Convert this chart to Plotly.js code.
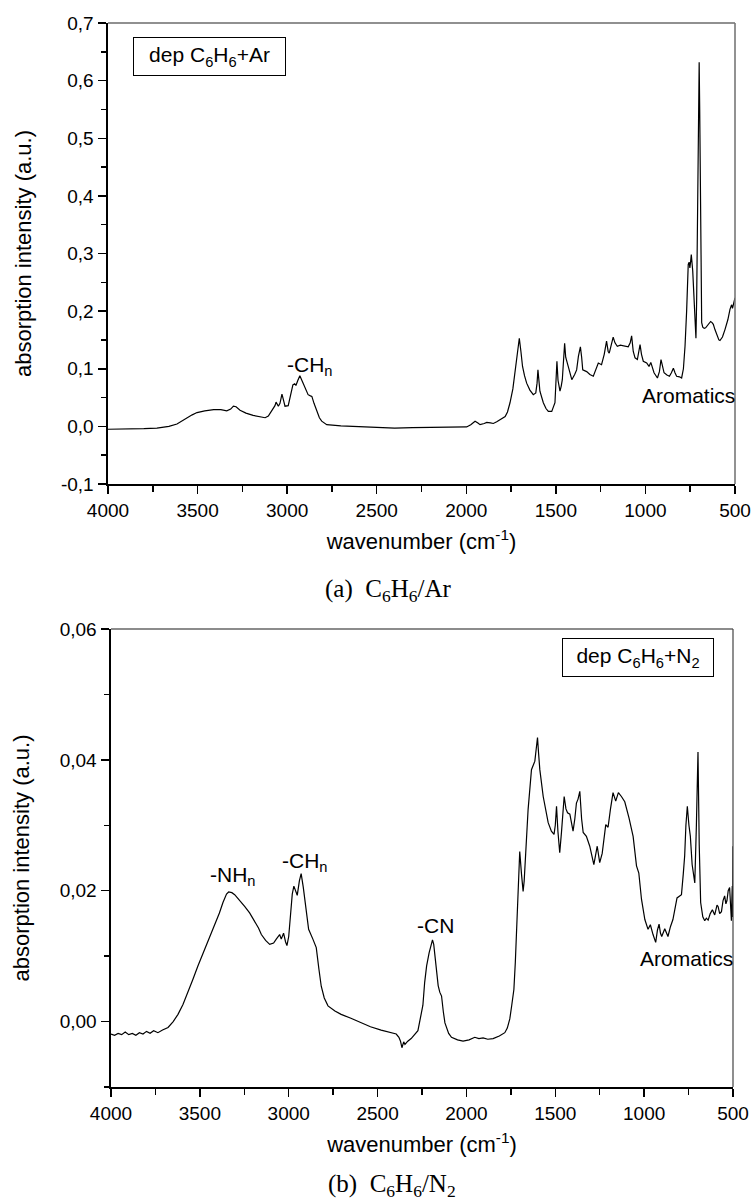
<!DOCTYPE html>
<html>
<head>
<meta charset="utf-8">
<script src="https://cdn.plot.ly/plotly-3.0.1.min.js"></script>
<style>html,body{margin:0;padding:0;background:#fff;}#chart{width:752px;height:1203px;}</style>
</head>
<body>
<div id="chart"></div>
<script>
// ---- (a) C6H6/Ar spectrum ----
const wavenumberA = [4000,3900,3800,3727,3660,3615,3585,3560,3530,3503,3460,3410,3370,3337,3315,3300,3285,3263,3230,3190,3150,3123,3105,3090,3078,3068,3062,3049,3040,3029,3020,3012,2994,2980,2968,2958,2951,2940,2929,2915,2901,2883,2870,2862,2850,2834,2820,2807,2779,2700,2600,2504,2400,2300,2200,2109,2050,1998,1975,1951,1935,1923,1900,1886,1865,1849,1830,1811,1790,1783,1770,1756,1740,1728,1715,1704,1695,1686,1675,1663,1645,1626,1612,1605,1600,1594,1589,1570,1555,1542,1523,1505,1498,1494,1488,1477,1470,1464,1451,1445,1431,1420,1411,1395,1384,1374,1363,1356,1350,1328,1310,1291,1275,1263,1245,1230,1217,1208,1202,1190,1180,1170,1157,1140,1124,1110,1096,1085,1077,1068,1058,1045,1035,1030,1022,1012,993,980,970,960,952,933,922,913,905,896,880,866,855,844,835,826,810,798,788,779,770,761,756,752,748,744,736,729,722,718,714,710,706,702,700,697,693,689,686,680,672,664,657,649,636,628,621,612,603,590,584,570,556,540,528,519,514,507,500];
const absorbA = [-0.005,-0.005,-0.004,-0.003,0.000,0.004,0.010,0.015,0.020,0.024,0.027,0.029,0.029,0.027,0.030,0.035,0.034,0.028,0.023,0.019,0.016,0.015,0.018,0.026,0.030,0.036,0.042,0.035,0.040,0.056,0.045,0.035,0.036,0.055,0.072,0.074,0.071,0.080,0.088,0.078,0.067,0.055,0.053,0.052,0.040,0.026,0.015,0.009,0.003,0.001,0.000,-0.002,-0.003,-0.002,-0.002,-0.001,-0.001,-0.001,0.003,0.009,0.006,0.003,0.005,0.007,0.006,0.005,0.008,0.012,0.015,0.017,0.025,0.041,0.065,0.093,0.125,0.153,0.130,0.104,0.088,0.075,0.063,0.055,0.058,0.075,0.098,0.075,0.061,0.041,0.031,0.026,0.026,0.041,0.080,0.113,0.080,0.061,0.070,0.081,0.144,0.120,0.104,0.090,0.081,0.090,0.098,0.122,0.138,0.120,0.098,0.095,0.090,0.087,0.100,0.110,0.107,0.125,0.148,0.130,0.127,0.140,0.155,0.145,0.139,0.141,0.140,0.139,0.138,0.145,0.157,0.130,0.119,0.116,0.130,0.142,0.125,0.113,0.110,0.104,0.111,0.102,0.093,0.084,0.095,0.116,0.105,0.093,0.089,0.087,0.093,0.101,0.093,0.087,0.086,0.084,0.100,0.139,0.200,0.281,0.285,0.275,0.285,0.298,0.270,0.226,0.180,0.153,0.220,0.350,0.500,0.620,0.632,0.550,0.400,0.260,0.180,0.172,0.170,0.171,0.174,0.177,0.182,0.180,0.177,0.168,0.159,0.150,0.149,0.155,0.168,0.185,0.203,0.211,0.205,0.215,0.223];

// ---- (b) C6H6/N2 spectrum ----
const wavenumberB = [4000,3980,3960,3940,3920,3900,3880,3860,3840,3820,3800,3780,3760,3736,3710,3679,3650,3623,3595,3567,3540,3511,3473,3445,3417,3390,3370,3350,3338,3320,3304,3280,3248,3220,3192,3170,3154,3130,3107,3085,3070,3051,3042,3029,3018,3010,3000,2990,2980,2971,2962,2952,2940,2930,2918,2907,2897,2888,2864,2845,2830,2817,2800,2779,2740,2705,2650,2592,2540,2480,2430,2395,2380,2371,2363,2353,2346,2330,2311,2290,2273,2260,2245,2235,2224,2210,2200,2191,2184,2178,2168,2159,2150,2140,2130,2121,2100,2084,2050,2019,1985,1953,1930,1906,1880,1850,1815,1784,1770,1756,1745,1733,1725,1715,1707,1700,1690,1681,1675,1666,1653,1634,1620,1615,1608,1600,1594,1587,1568,1550,1540,1522,1507,1500,1493,1485,1475,1465,1450,1440,1431,1418,1400,1390,1381,1372,1362,1352,1343,1325,1306,1283,1273,1264,1250,1236,1216,1203,1190,1175,1160,1145,1128,1109,1085,1062,1043,1030,1015,996,978,965,950,935,925,916,908,901,884,866,852,838,815,800,790,780,772,765,757,748,740,730,715,706,697,690,682,670,659,650,640,628,616,603,590,584,575,565,556,547,540,534,527,519,514,509,506,504,502,500];
const absorbB = [-0.0019,-0.0021,-0.0018,-0.0020,-0.0016,-0.0020,-0.0018,-0.0021,-0.0017,-0.0019,-0.0015,-0.0018,-0.0014,-0.0017,-0.0013,-0.0009,0.0000,0.0011,0.0026,0.0044,0.0064,0.0085,0.0110,0.0128,0.0146,0.0166,0.0182,0.0195,0.0198,0.0197,0.0194,0.0187,0.0176,0.0166,0.0154,0.0143,0.0133,0.0124,0.0118,0.0120,0.0126,0.0133,0.0126,0.0135,0.0122,0.0116,0.0130,0.0161,0.0195,0.0207,0.0200,0.0193,0.0215,0.0226,0.0205,0.0182,0.0158,0.0141,0.0126,0.0113,0.0080,0.0054,0.0036,0.0024,0.0016,0.0011,0.0005,-0.0002,-0.0008,-0.0013,-0.0016,-0.0019,-0.0024,-0.0030,-0.0040,-0.0031,-0.0035,-0.0030,-0.0026,-0.0020,-0.0014,0.0004,0.0025,0.0060,0.0085,0.0105,0.0118,0.0125,0.0118,0.0105,0.0080,0.0055,0.0045,0.0039,0.0015,-0.0002,-0.0018,-0.0024,-0.0028,-0.0030,-0.0028,-0.0024,-0.0026,-0.0025,-0.0027,-0.0026,-0.0022,-0.0017,-0.0010,0.0004,0.0025,0.0049,0.0090,0.0151,0.0210,0.0260,0.0225,0.0199,0.0215,0.0253,0.0324,0.0385,0.0396,0.0398,0.0415,0.0434,0.0410,0.0385,0.0344,0.0315,0.0304,0.0291,0.0286,0.0300,0.0329,0.0290,0.0258,0.0290,0.0344,0.0325,0.0319,0.0317,0.0291,0.0310,0.0334,0.0340,0.0352,0.0310,0.0289,0.0283,0.0268,0.0240,0.0255,0.0268,0.0243,0.0257,0.0301,0.0297,0.0324,0.0350,0.0337,0.0350,0.0344,0.0336,0.0311,0.0283,0.0238,0.0227,0.0187,0.0156,0.0141,0.0148,0.0133,0.0121,0.0140,0.0149,0.0135,0.0130,0.0142,0.0130,0.0145,0.0156,0.0189,0.0192,0.0194,0.0225,0.0253,0.0300,0.0329,0.0300,0.0283,0.0240,0.0212,0.0300,0.0412,0.0270,0.0182,0.0160,0.0154,0.0158,0.0155,0.0165,0.0171,0.0163,0.0178,0.0176,0.0165,0.0168,0.0185,0.0192,0.0180,0.0185,0.0200,0.0205,0.0180,0.0154,0.0190,0.0207,0.0160,0.0268];

// ---- tick labels ----
const xTickVals = [4000,3500,3000,2500,2000,1500,1000,500];
const yTickValsA = [-0.1,0.0,0.1,0.2,0.3,0.4,0.5,0.6,0.7];
const yTickTextA = ['-0,1','0,0','0,1','0,2','0,3','0,4','0,5','0,6','0,7'];
const yTickValsB = [0.00,0.02,0.04,0.06];
const yTickTextB = ['0,00','0,02','0,04','0,06'];

// ---- texts ----
const xTitle = 'wavenumber (cm<sup>-1</sup>)';
const yTitle = 'absorption intensity (a.u.)';
const legendA = 'dep C<sub>6</sub>H<sub>6</sub>+Ar';
const legendB = 'dep C<sub>6</sub>H<sub>6</sub>+N<sub>2</sub>';
const captionA = '(a)  C<sub>6</sub>H<sub>6</sub>/Ar';
const captionB = '(b)  C<sub>6</sub>H<sub>6</sub>/N<sub>2</sub>';

const W = 752, H = 1203;
const px = v => v / W;
const py = v => 1 - v / H;

const sans = 'Liberation Sans, Arial, sans-serif';
const serif = 'Liberation Serif, Times New Roman, serif';

function xAxis(domain, anchor) {
  return {
    domain: domain, anchor: anchor, range: [4000, 500],
    tickmode: 'array', tickvals: xTickVals,
    ticks: 'outside', ticklen: 8, tickwidth: 1.5, tickcolor: '#000',
    minor: {dtick: 250, tick0: 0, ticks: 'outside', ticklen: 6, tickwidth: 1.5, tickcolor: '#000'},
    showline: true, linecolor: '#000', linewidth: 2,
    showgrid: false, zeroline: false,
    tickfont: {family: sans, size: 19, color: '#000'},
    title: {text: xTitle, font: {family: sans, size: 22, color: '#000'}, standoff: 14}
  };
}
function yAxis(domain, anchor, range, vals, text, minorStep) {
  return {
    domain: domain, anchor: anchor, range: range,
    tickmode: 'array', tickvals: vals, ticktext: text,
    ticks: 'outside', ticklen: 8, tickwidth: 1.5, tickcolor: '#000',
    minor: {dtick: minorStep, tick0: 0, ticks: 'outside', ticklen: 5, tickwidth: 1.5, tickcolor: '#000'},
    showline: true, linecolor: '#000', linewidth: 2.5,
    showgrid: false, zeroline: false,
    tickfont: {family: sans, size: 19, color: '#000'},
    title: {text: yTitle, font: {family: sans, size: 22, color: '#000'}, standoff: 24}
  };
}

const traces = [
  {x: wavenumberA, y: absorbA, xaxis: 'x', yaxis: 'y', type: 'scatter', mode: 'lines',
   line: {color: '#000', width: 1.2}, hoverinfo: 'skip'},
  {x: wavenumberB, y: absorbB, xaxis: 'x2', yaxis: 'y2', type: 'scatter', mode: 'lines',
   line: {color: '#000', width: 1.2}, hoverinfo: 'skip'}
];

const domXA = [px(108), px(735)], domYA = [py(484), py(23)];
const domXB = [px(111), px(733)], domYB = [py(1087), py(629)];

const frame = (xr, yr, side, color, width) => {
  const s = {type: 'line', xref: xr + ' domain', yref: yr + ' domain', line: {color: color, width: width}};
  if (side === 'top') { s.x0 = 0; s.x1 = 1; s.y0 = 1; s.y1 = 1; }
  else { s.x0 = 1; s.x1 = 1; s.y0 = 0; s.y1 = 1; }
  return s;
};

const ann = (text, x, y, size, fam, extra) => Object.assign({
  text: text, xref: 'paper', yref: 'paper', x: px(x), y: py(y),
  xanchor: 'center', yanchor: 'middle', showarrow: false,
  font: {family: fam, size: size, color: '#000'}
}, extra || {});

const layout = {
  width: W, height: H, paper_bgcolor: '#fff', plot_bgcolor: '#fff',
  margin: {l: 0, r: 0, t: 0, b: 0}, showlegend: false,
  xaxis: xAxis(domXA, 'y'),
  yaxis: yAxis(domYA, 'x', [-0.1, 0.7], yTickValsA, yTickTextA, 0.05),
  xaxis2: xAxis(domXB, 'y2'),
  yaxis2: yAxis(domYB, 'x2', [-0.01, 0.06], yTickValsB, yTickTextB, 0.01),
  shapes: [
    frame('x', 'y', 'top', '#222', 1.2), frame('x', 'y', 'right', '#777', 1.6),
    frame('x2', 'y2', 'top', '#666', 1.4), frame('x2', 'y2', 'right', '#444', 1.2)
  ],
  annotations: [
    ann(legendA, 209.5, 56.5, 21, sans, {bordercolor: '#000', borderwidth: 1, borderpad: 3, width: 145, height: 31, bgcolor: '#fff'}),
    ann('-CH<sub>n</sub>', 310, 366, 21, sans),
    ann('Aromatics', 688, 396, 21, sans),
    ann(captionA, 388, 590, 25, serif),
    ann(legendB, 638, 657.5, 21, sans, {bordercolor: '#000', borderwidth: 1, borderpad: 3, width: 144, height: 31, bgcolor: '#fff'}),
    ann('-NH<sub>n</sub>', 233, 876, 21, sans),
    ann('-CH<sub>n</sub>', 305, 862, 21, sans),
    ann('-CN', 435, 925, 21, sans),
    ann('Aromatics', 686, 958, 21, sans),
    ann(captionB, 392, 1185, 25, serif)
  ]
};

Plotly.newPlot('chart', traces, layout, {staticPlot: true, displayModeBar: false});
</script>
</body>
</html>
